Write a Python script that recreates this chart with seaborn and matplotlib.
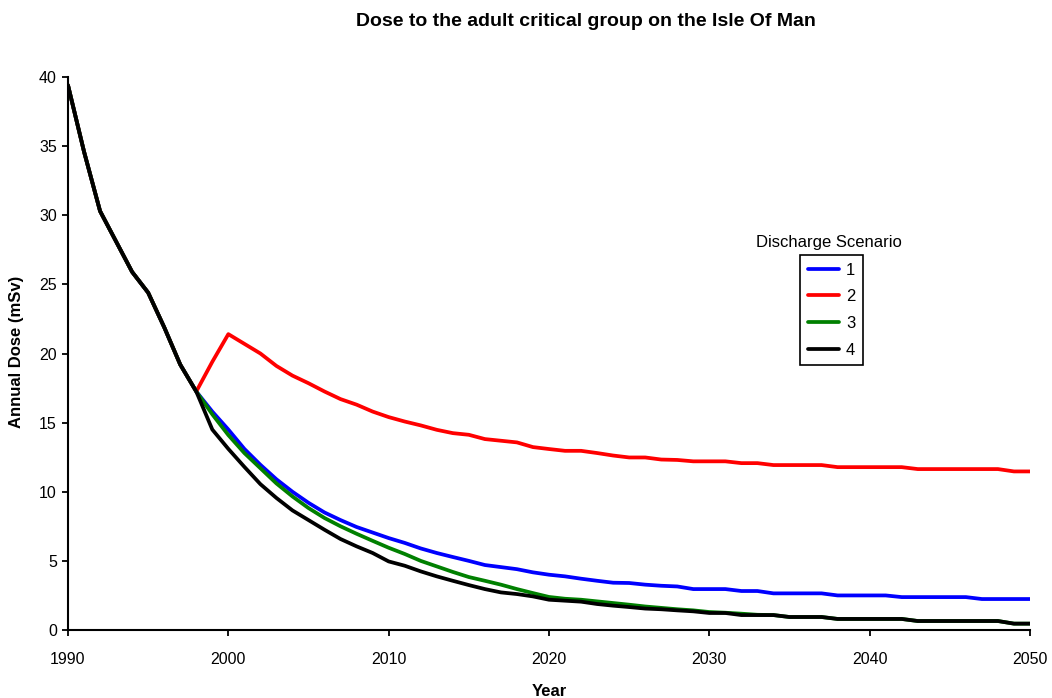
import numpy as np
import pandas as pd
import matplotlib
matplotlib.use("Agg")
import matplotlib.pyplot as plt
import seaborn as sns

# data (annual dose, uSv)
years = np.arange(1990, 2051)
scenarios = ["1", "2", "3", "4"]
colors = ["#0000FF", "#FF0000", "#008000", "#000000"]

# 1990-1998 common to every scenario
early_dose = [39.4, 34.6, 30.3, 28.1, 25.9, 24.4, 21.9, 19.2, 17.25]

# 1999-2050
dose_1 = [15.8, 14.5, 13.1, 11.95, 10.9, 10.0, 9.2, 8.5, 7.95, 7.45,
          7.05, 6.65, 6.3, 5.9, 5.57, 5.28, 5.0, 4.7, 4.55, 4.4,
          4.17, 4.0, 3.88, 3.71, 3.56, 3.42, 3.4, 3.28, 3.2, 3.15,
          2.96, 2.96, 2.96, 2.82, 2.82, 2.65, 2.65, 2.65, 2.65, 2.5,
          2.5, 2.5, 2.5, 2.38, 2.38, 2.38, 2.38, 2.38, 2.24, 2.24,
          2.24, 2.24]
dose_2 = [19.4, 21.4, 20.7, 20.0, 19.1, 18.4, 17.85, 17.25, 16.7, 16.3,
          15.8, 15.4, 15.08, 14.8, 14.48, 14.24, 14.12, 13.81, 13.69, 13.57,
          13.23, 13.09, 12.96, 12.96, 12.8, 12.62, 12.48, 12.48, 12.33, 12.3,
          12.2, 12.2, 12.2, 12.07, 12.07, 11.93, 11.93, 11.93, 11.93, 11.78,
          11.78, 11.78, 11.78, 11.78, 11.64, 11.64, 11.64, 11.64, 11.64, 11.64,
          11.47, 11.47]
dose_3 = [15.6, 14.1, 12.8, 11.7, 10.6, 9.66, 8.82, 8.1, 7.5, 6.96,
          6.45, 5.95, 5.5, 5.0, 4.6, 4.2, 3.83, 3.56, 3.28, 2.96,
          2.67, 2.39, 2.26, 2.19, 2.07, 1.95, 1.83, 1.7, 1.6, 1.5,
          1.42, 1.3, 1.25, 1.18, 1.1, 1.08, 0.94, 0.94, 0.94, 0.8,
          0.8, 0.8, 0.8, 0.8, 0.65, 0.65, 0.65, 0.65, 0.65, 0.65,
          0.46, 0.46]
dose_4 = [14.5, 13.1, 11.8, 10.55, 9.55, 8.65, 7.95, 7.25, 6.58, 6.05,
          5.57, 4.96, 4.65, 4.24, 3.88, 3.56, 3.25, 2.96, 2.72, 2.6,
          2.43, 2.19, 2.12, 2.05, 1.88, 1.76, 1.66, 1.55, 1.5, 1.42,
          1.35, 1.23, 1.23, 1.08, 1.08, 1.08, 0.94, 0.94, 0.94, 0.8,
          0.8, 0.8, 0.8, 0.8, 0.65, 0.65, 0.65, 0.65, 0.65, 0.65,
          0.46, 0.46]

rows = []
for name, tail in zip(scenarios, [dose_1, dose_2, dose_3, dose_4]):
    for yr, d in zip(years, early_dose + tail):
        rows.append({"Year": yr, "Dose": d, "Scenario": name})
df = pd.DataFrame(rows)

sns.set_style("ticks")
plt.rcParams["font.family"] = ["Liberation Sans", "DejaVu Sans"]
plt.rcParams["text.color"] = "black"
plt.rcParams["axes.labelcolor"] = "black"

fig = plt.figure(figsize=(10.52, 6.98), dpi=100)
ax = fig.add_axes([68 / 1052, 1 - 630 / 698, 962 / 1052, 553 / 698])

sns.lineplot(data=df, x="Year", y="Dose", hue="Scenario", hue_order=scenarios,
             palette=colors, linewidth=2.7, ax=ax)

ax.set_xlim(1990, 2050)
ax.set_ylim(0, 40)
ax.set_xticks(range(1990, 2051, 10))
ax.set_yticks(range(0, 41, 5))
sns.despine(ax=ax)
for side in ["left", "bottom"]:
    ax.spines[side].set_linewidth(1.5)
    ax.spines[side].set_color("black")
ax.tick_params(axis="both", direction="out", length=4, width=1.3,
               colors="black", labelsize=11.5)
ax.tick_params(axis="x", pad=12)
ax.tick_params(axis="y", pad=4)

ax.set_xlabel("Year", fontsize=12, fontweight="bold")
ax.set_ylabel("Annual Dose (mSv)", fontsize=12, fontweight="bold")
ax.xaxis.set_label_coords(0.5, -0.097)
ax.yaxis.set_label_coords(-0.046, 0.503)

fig.text(586 / 1052, 1 - 22 / 698, "Dose to the adult critical group on the Isle Of Man",
         ha="center", va="center", fontsize=14, fontweight="bold")

handles, labels = ax.get_legend_handles_labels()
leg = ax.legend(handles, labels, loc="upper left",
                bbox_to_anchor=(800 / 1052, 1 - 255 / 698),
                bbox_transform=fig.transFigure, frameon=True, fancybox=False,
                edgecolor="black", framealpha=1, fontsize=12,
                borderpad=0.45, handlelength=1.9, handletextpad=0.4,
                labelspacing=0.7, borderaxespad=0)
leg.get_frame().set_linewidth(1.2)
fig.text(829 / 1052, 1 - 242 / 698, "Discharge Scenario",
         ha="center", va="center", fontsize=12)

fig.savefig("out.png", dpi=100)
